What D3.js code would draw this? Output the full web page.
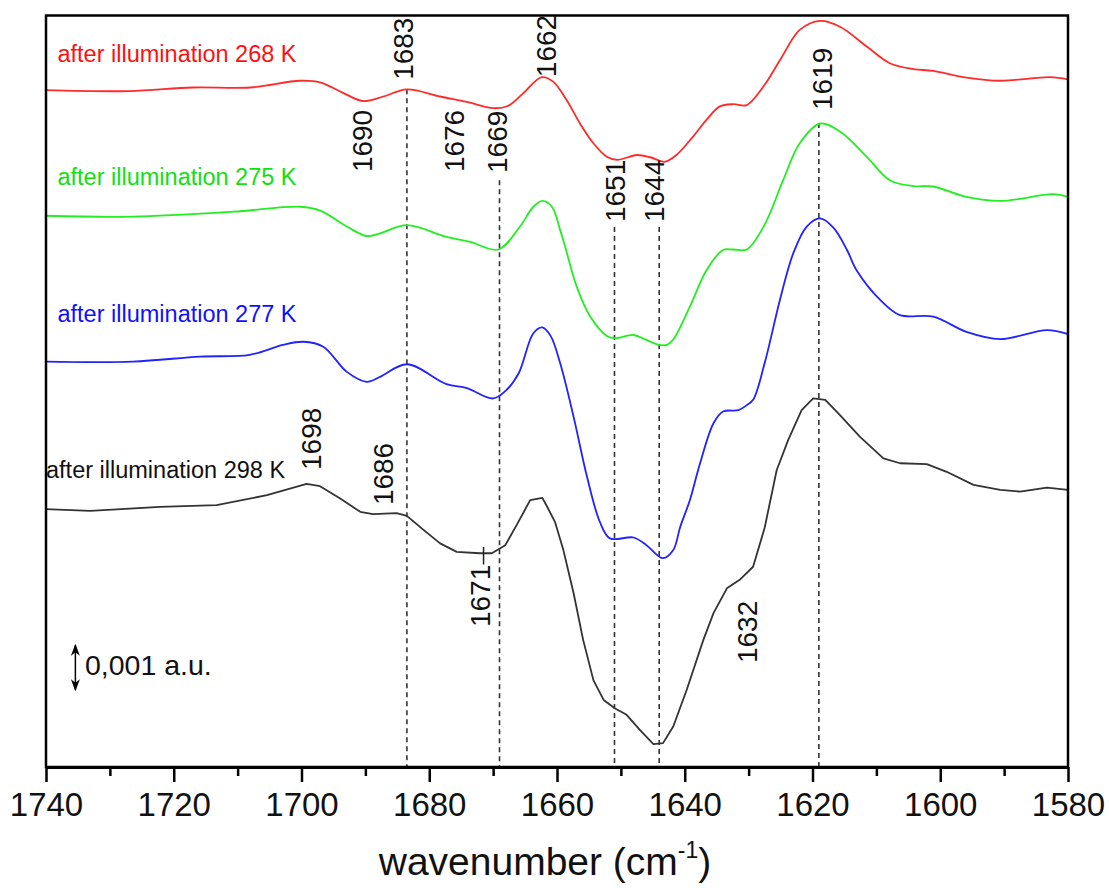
<!DOCTYPE html>
<html>
<head>
<meta charset="utf-8">
<script src="https://cdn.jsdelivr.net/npm/d3@7"></script>
<style>
  body { margin: 0; background: #fff; }
  svg { font-family: "Liberation Sans", Arial, sans-serif; }
</style>
</head>
<body>
<div id="chart"></div>
<script>
// difference spectra, [wavenumber cm-1, absorbance in units of 0.001 a.u.], offset for clarity
const spec268 = [[1740,15.04],[1727,15.02],[1717,15.10],[1708,15.10],[1700.2,15.25],[1697,15.21],[1693.5,14.98],[1690.4,14.80],[1687.2,14.90],[1683.5,15.06],[1678.3,14.90],[1674.1,14.78],[1670,14.64],[1667.7,14.69],[1665.3,14.97],[1662.4,15.33],[1660.6,15.23],[1658.5,14.82],[1656.4,14.30],[1654.3,13.86],[1652.2,13.56],[1650.6,13.49],[1647.5,13.60],[1645.4,13.55],[1643.1,13.45],[1641.3,13.60],[1638.7,14.01],[1636.6,14.38],[1634.5,14.68],[1632.4,14.73],[1630.3,14.71],[1627.5,15.16],[1624.8,15.78],[1622,16.38],[1618.8,16.58],[1615.7,16.45],[1611.5,16.01],[1607.9,15.64],[1604.2,15.51],[1601.1,15.47],[1595.9,15.32],[1590.6,15.25],[1582.8,15.33],[1580,15.28]];
const spec275 = [[1740,12.25],[1726.4,12.23],[1710.7,12.34],[1700.2,12.45],[1697,12.36],[1692.9,12.01],[1689.8,11.80],[1687.7,11.86],[1683.5,12.04],[1677.3,11.78],[1673.6,11.67],[1669.2,11.50],[1665.8,12.01],[1663.7,12.45],[1662.3,12.58],[1660.8,12.45],[1659.5,11.93],[1658.7,11.55],[1656.9,10.67],[1654.8,10.01],[1652.2,9.58],[1650.9,9.53],[1648,9.60],[1646,9.49],[1644,9.38],[1642.8,9.38],[1641.8,9.50],[1639.2,10.23],[1636.6,11.04],[1634,11.49],[1632.4,11.50],[1630.3,11.50],[1627.5,12.05],[1624.6,13.04],[1622,13.86],[1618.8,14.30],[1615.7,14.12],[1611.5,13.56],[1607.9,13.04],[1604.2,12.91],[1601.1,12.90],[1595.9,12.67],[1590.6,12.58],[1582.3,12.73],[1580,12.67]];
const spec277 = [[1740,9.01],[1726.4,9.01],[1715.9,9.12],[1708.1,9.16],[1702.9,9.38],[1699.7,9.45],[1696.6,9.34],[1692.9,8.78],[1689.8,8.56],[1687.7,8.67],[1683.5,8.95],[1677.3,8.51],[1674.1,8.42],[1670,8.19],[1667.9,8.38],[1666,8.75],[1663.7,9.64],[1662.3,9.77],[1661,9.58],[1659.5,8.97],[1657.4,7.78],[1655.3,6.45],[1653.3,5.45],[1651.7,5.08],[1648,5.10],[1646,4.93],[1643.4,4.64],[1641.8,4.82],[1640.7,5.34],[1639.2,5.93],[1637.6,6.75],[1635.5,7.64],[1634,7.90],[1631.6,7.93],[1630.3,8.04],[1629.3,8.16],[1627.5,8.97],[1625.1,10.38],[1623,11.42],[1620.9,12.01],[1618.8,12.19],[1616.7,11.98],[1614.6,11.49],[1613.1,11.04],[1609.4,10.38],[1606.3,10.04],[1601.1,10.01],[1595.9,9.67],[1590.6,9.51],[1583.3,9.71],[1580,9.62]];
const spec298 = [[1740,5.73],[1733.1,5.69],[1722.2,5.78],[1713.3,5.82],[1705.4,6.04],[1699.2,6.29],[1697.1,6.24],[1694,5.97],[1690.8,5.67],[1688.8,5.62],[1685.1,5.64],[1683.5,5.58],[1680.9,5.27],[1678.3,4.97],[1675.7,4.78],[1672.1,4.75],[1670.2,4.75],[1668.1,4.93],[1666.3,5.38],[1664.2,5.93],[1662.3,5.98],[1661.6,5.80],[1660.3,5.44],[1659,4.82],[1657.4,3.86],[1655.9,2.82],[1654.3,1.93],[1652.7,1.49],[1650.9,1.30],[1649.1,1.16],[1647,0.82],[1644.9,0.51],[1643.4,0.53],[1641.8,0.90],[1639.7,1.71],[1637.1,2.82],[1635.5,3.42],[1633.4,3.97],[1631.4,4.16],[1629.3,4.45],[1627.5,5.31],[1625.6,6.60],[1623.8,7.27],[1621.7,7.93],[1619.9,8.19],[1618,8.16],[1615.7,7.82],[1612.6,7.34],[1608.9,6.86],[1606.3,6.75],[1602.1,6.73],[1599,6.56],[1594.8,6.27],[1590.6,6.16],[1587.5,6.12],[1583.3,6.21],[1580,6.16]];

const seriesNames = ["after illumination 268 K", "after illumination 275 K", "after illumination 277 K", "after illumination 298 K"];
// where each name sits: [wavenumber, level]
const seriesNameAt = [[1738.2, 15.67], [1738.2, 12.93], [1738.2, 9.89], [1740, 6.42]];

// dashed guides: wavenumber and the level they start from
const guides = [[1683.5, 15.06], [1669, 13.04], [1651, 12.0], [1644, 12.0], [1619, 14.31]];

// rotated band labels: text, wavenumber, level of the label's start
const bandLabels = [
  ["1690", 1690.5, 13.22], ["1683", 1684.1, 15.27], ["1676", 1676.1, 13.22],
  ["1669", 1669.35, 13.2], ["1662", 1661.7, 15.33], ["1651", 1650.9, 12.11],
  ["1644", 1644.8, 12.11], ["1619", 1618.5, 14.6], ["1698", 1698.6, 6.6],
  ["1686", 1687.2, 5.82], ["1671", 1672, 3.11], ["1632", 1630.2, 2.31]
];
const marker1671 = [1671.5, 4.89, 4.5];

const majorTicks = [1740, 1720, 1700, 1680, 1660, 1640, 1620, 1600, 1580];
const minorTicks = [1730, 1710, 1690, 1670, 1650, 1630, 1610, 1590];

// scale bar: 1 unit = 0.001 a.u.
const scaleBar = { wn: 1735.4, from: 1.71, to: 2.71, text: "0,001 a.u.", textWn: 1733.9, textLevel: 2.04 };

const W = 1109, H = 888;
const x0 = 46, x1 = 1068, yTop = 15.5, yBot = 767;

const x = d3.scaleLinear().domain([1740, 1580]).range([x0, x1]);
const y = d3.scaleLinear().domain([0, 16.7]).range([yBot, yTop]);

const svg = d3.select("#chart").append("svg")
    .attr("width", W)
    .attr("height", H);

// dashed guides
svg.append("g")
    .selectAll("line")
    .data(guides)
    .join("line")
    .attr("x1", d => x(d[0]))
    .attr("x2", d => x(d[0]))
    .attr("y1", d => y(d[1]))
    .attr("y2", y(0))
    .attr("stroke", "#333")
    .attr("stroke-width", 1.6)
    .attr("stroke-dasharray", "5,4");

// spectra
const colors = ["#ff2a2a", "#22ee22", "#2222ff", "#333333"];
const textColors = ["#ff1010", "#11e011", "#1010ff", "#111111"];
const spectra = [spec268, spec275, spec277, spec298];

const smooth = d3.line()
    .x(d => x(d[0]))
    .y(d => y(d[1]))
    .curve(d3.curveCatmullRom.alpha(0.5));
const straight = d3.line()
    .x(d => x(d[0]))
    .y(d => y(d[1]));

svg.append("g")
    .selectAll("path")
    .data(spectra)
    .join("path")
    .attr("d", (d, i) => i === 3 ? straight(d) : smooth(d))
    .attr("fill", "none")
    .attr("stroke", (d, i) => colors[i])
    .attr("stroke-width", 1.8)
    .attr("stroke-linejoin", "round");

// series names
svg.append("g")
    .selectAll("text")
    .data(seriesNames)
    .join("text")
    .attr("x", (d, i) => x(seriesNameAt[i][0]))
    .attr("y", (d, i) => y(seriesNameAt[i][1]))
    .attr("fill", (d, i) => textColors[i])
    .attr("font-size", 23.5)
    .text(d => d);

// band labels, rotated to read upward
svg.append("g")
    .selectAll("text")
    .data(bandLabels)
    .join("text")
    .attr("transform", d => `translate(${x(d[1])},${y(d[2])}) rotate(-90)`)
    .attr("dy", "0.36em")
    .attr("font-size", 28)
    .attr("fill", "#111")
    .text(d => d[0]);

// little tick at 1671 on the 298 K trace
svg.append("line")
    .attr("x1", x(marker1671[0]))
    .attr("x2", x(marker1671[0]))
    .attr("y1", y(marker1671[1]))
    .attr("y2", y(marker1671[2]))
    .attr("stroke", "#222")
    .attr("stroke-width", 1.5);

// scale bar
const defs = svg.append("defs");
defs.append("marker")
    .attr("id", "head")
    .attr("viewBox", "0 0 10 10")
    .attr("refX", 9)
    .attr("refY", 5)
    .attr("markerWidth", 12)
    .attr("markerHeight", 9)
    .attr("markerUnits", "userSpaceOnUse")
    .attr("orient", "auto-start-reverse")
    .attr("preserveAspectRatio", "none")
    .append("path")
    .attr("d", "M0,0 L10,5 L0,10 L3,5 Z")
    .attr("fill", "#000");

svg.append("line")
    .attr("x1", x(scaleBar.wn))
    .attr("x2", x(scaleBar.wn))
    .attr("y1", y(scaleBar.from))
    .attr("y2", y(scaleBar.to))
    .attr("stroke", "#000")
    .attr("stroke-width", 1.5)
    .attr("marker-start", "url(#head)")
    .attr("marker-end", "url(#head)");

svg.append("text")
    .attr("x", x(scaleBar.textWn))
    .attr("y", y(scaleBar.textLevel))
    .attr("font-size", 28.5)
    .attr("fill", "#111")
    .text(scaleBar.text);

// frame
svg.append("rect")
    .attr("x", x0)
    .attr("y", yTop)
    .attr("width", x1 - x0)
    .attr("height", yBot - yTop)
    .attr("fill", "none")
    .attr("stroke", "#000")
    .attr("stroke-width", 2.5);

// bottom axis: major ticks with labels, minor ticks without
const axis = svg.append("g")
    .attr("transform", `translate(0,${yBot})`)
    .call(d3.axisBottom(x).tickValues(majorTicks).tickFormat(d3.format("d")).tickSize(15).tickSizeOuter(0).tickPadding(11));
axis.select(".domain").attr("stroke-width", 3);
axis.selectAll(".tick line").attr("stroke-width", 2.5);
axis.selectAll(".tick text")
    .attr("font-size", 33)
    .attr("font-family", "Liberation Sans, Arial, sans-serif")
    .attr("fill", "#111");

const minor = svg.append("g")
    .attr("transform", `translate(0,${yBot})`)
    .call(d3.axisBottom(x).tickValues(minorTicks).tickFormat("").tickSize(9).tickSizeOuter(0));
minor.select(".domain").remove();
minor.selectAll(".tick line").attr("stroke-width", 2.5);

// axis title
const title = svg.append("text")
    .attr("x", 545)
    .attr("y", 875)
    .attr("text-anchor", "middle")
    .attr("font-size", 39)
    .attr("fill", "#111");
title.append("tspan").text("wavenumber (cm");
title.append("tspan").attr("font-size", 23).attr("dy", -17).text("-1");
title.append("tspan").attr("dy", 17).text(")");
</script>
</body>
</html>
